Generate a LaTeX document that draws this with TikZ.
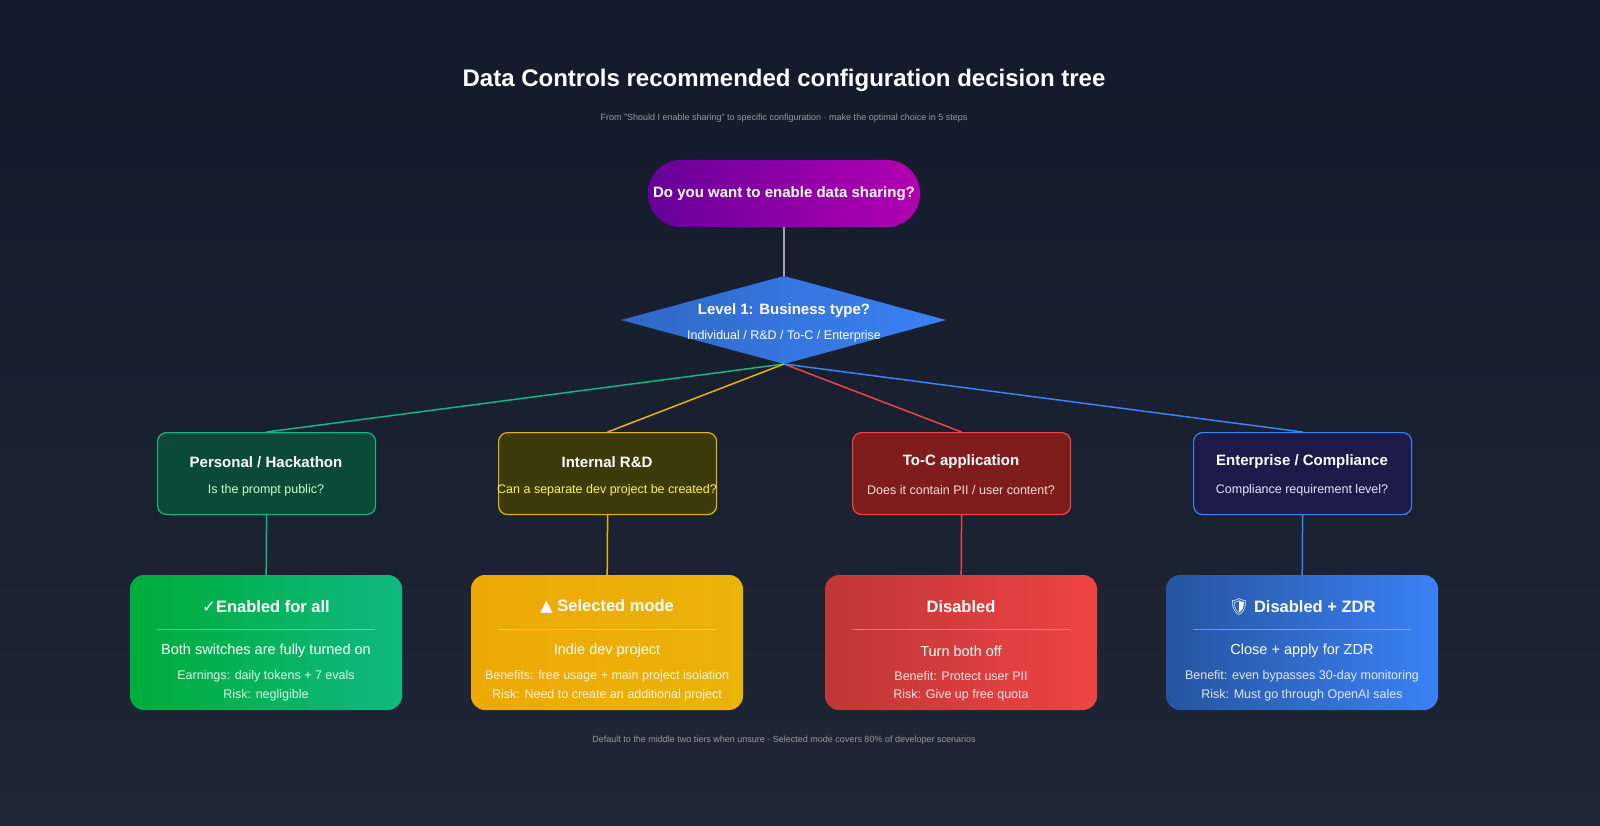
\documentclass[tikz,border=0pt]{standalone}
\usepackage{fontspec}
\setmainfont{Liberation Sans}
\newfontfamily\djfont{DejaVu Sans}
\newfontfamily\emofont{Noto Emoji}
\usetikzlibrary{shapes.geometric}
\definecolor{bgA}{HTML}{131A2B}\definecolor{bgB}{HTML}{1F2635}
\definecolor{gL}{HTML}{10B981}\definecolor{yL}{HTML}{EAB308}\definecolor{rL}{HTML}{EF4444}\definecolor{bL}{HTML}{3B82F6}
\definecolor{gF}{HTML}{0B4A38}\definecolor{yF}{HTML}{3D3A0C}\definecolor{rF}{HTML}{7F1D1D}\definecolor{bF}{HTML}{1E1B4B}
\tikzset{
 lvl/.style={draw=#1,line width=1.2pt,rounded corners=9pt,minimum width=218pt,minimum height=82pt,anchor=north west},
 res/.style={rounded corners=14pt,minimum width=272pt,minimum height=135pt,anchor=north west},
 edge/.style={line width=1.5pt},
 t1/.style={text=white,font=\bfseries\fontsize{15}{18}\selectfont},
 t2/.style={font=\fontsize{12.5}{15}\selectfont},
}
\begin{document}
\begin{tikzpicture}[x=1pt,y=-1pt]
\shade[top color=bgA,bottom color=bgB] (0,0) rectangle (1600,826);
\useasboundingbox (0,0) rectangle (1600,826);
\node[text=white,font=\bfseries\fontsize{24}{28}\selectfont] (title) at (784,80) {Data Controls recommended configuration decision tree};
\node[text=gray!80,font=\fontsize{9}{11}\selectfont] (sub) at (784,118) {From "Should I enable sharing" to specific configuration · make the optimal choice in 5 steps};
% start
\shade[left color=violet!80!blue,right color=violet!60!magenta,rounded corners=33pt] (648,160) rectangle (920,227);
\node[t1] (start) at (784,194) {Do you want to enable data sharing?};
\coordinate (sb) at (784,227);
% diamond
\shade[left color=bL!80!black,right color=bL] (621,320) -- (784,276) -- (946,320) -- (784,364) -- cycle;
\coordinate (dt) at (784,276); \coordinate (db) at (784,364);
\node[t1] (q) at (784,311) {Level 1: Business type?};
\node[t2,text=white] (qs) at (784,336) {Individual / R\&D / To-C / Enterprise};
\draw[edge,gray!70] (sb) -- (dt);
% level 2
\node[lvl=gL,fill=gF] (a) at (157,432) {};
\node[lvl=yL,fill=yF] (b) at (498,432) {};
\node[lvl=rL,fill=rF] (c) at (852,432) {};
\node[lvl=bL,fill=bF] (d) at (1193,432) {};
\foreach \n/\c in {a/gL,b/yL,c/rL,d/bL} \draw[edge,\c] (db) -- (\n.north);
\node[t1] at (266,462) {Personal / Hackathon};
\node[t2,text=green!20] at (266,490) {Is the prompt public?};
\node[t1] at (607,462) {Internal R\&D};
\node[t2,text=yellow!70] at (607,490) {Can a separate dev project be created?};
\node[t1] at (961,462) {To-C application};
\node[t2,text=red!15] at (961,490) {Does it contain PII / user content?};
\node[t1] at (1302,462) {Enterprise / Compliance};
\node[t2,text=blue!10] at (1302,490) {Compliance requirement level?};
% results
\shade[left color=green!50!teal!90!black,right color=gL,rounded corners=14pt] (130,575) rectangle (402,710);
\shade[left color=yL!80!orange,right color=yL,rounded corners=14pt] (471,575) rectangle (743,710);
\shade[left color=rL!80!black,right color=rL,rounded corners=14pt] (825,575) rectangle (1097,710);
\shade[left color=bL!65!black,right color=bL,rounded corners=14pt] (1166,575) rectangle (1438,710);
\node[res] (ra) at (130,575) {};\node[res] (rb) at (471,575) {};\node[res] (rc) at (825,575) {};\node[res] (rd) at (1166,575) {};
\draw[edge,gL] (a.south) -- (ra.north);
\draw[edge,yL] (b.south) -- (rb.north);
\draw[edge,rL] (c.south) -- (rc.north);
\draw[edge,bL] (d.south) -- (rd.north);
\foreach \x in {266,607,961,1302} \draw[white,opacity=0.35] (\x-109,629) -- (\x+109,629);
\tikzset{rt/.style={text=white,font=\bfseries\fontsize{16.5}{20}\selectfont},
 r1/.style={text=white,font=\fontsize{14.5}{17}\selectfont},
 r2/.style={text=white,opacity=0.85,font=\fontsize{12.5}{15}\selectfont}}
\node[rt] at (266,607) {{\djfont ✓}Enabled for all};
\node[r1] at (266,651) {Both switches are fully turned on};
\node[r2] at (266,676) {Earnings: daily tokens + 7 evals};
\node[r2] at (266,695) {Risk: negligible};
\node[rt] at (607,607) {{\djfont ▲} Selected mode};
\node[r1] at (607,651) {Indie dev project};
\node[r2] at (607,676) {Benefits: free usage + main project isolation};
\node[r2] at (607,695) {Risk: Need to create an additional project};
\node[rt] at (961,607) {Disabled};
\node[r1] at (961,651) {Turn both off};
\node[r2] at (961,676) {Benefit: Protect user PII};
\node[r2] at (961,695) {Risk: Give up free quota};
\node[rt] at (1302,607) {{\emofont 🛡}\ Disabled + ZDR};
\node[r1] at (1302,651) {Close + apply for ZDR};
\node[r2] at (1302,676) {Benefit: even bypasses 30-day monitoring};
\node[r2] at (1302,695) {Risk: Must go through OpenAI sales};
\node[text=gray!80,font=\fontsize{9}{11}\selectfont] (foot) at (784,740) {Default to the middle two tiers when unsure · Selected mode covers 80\% of developer scenarios};
\end{tikzpicture}
\end{document}
